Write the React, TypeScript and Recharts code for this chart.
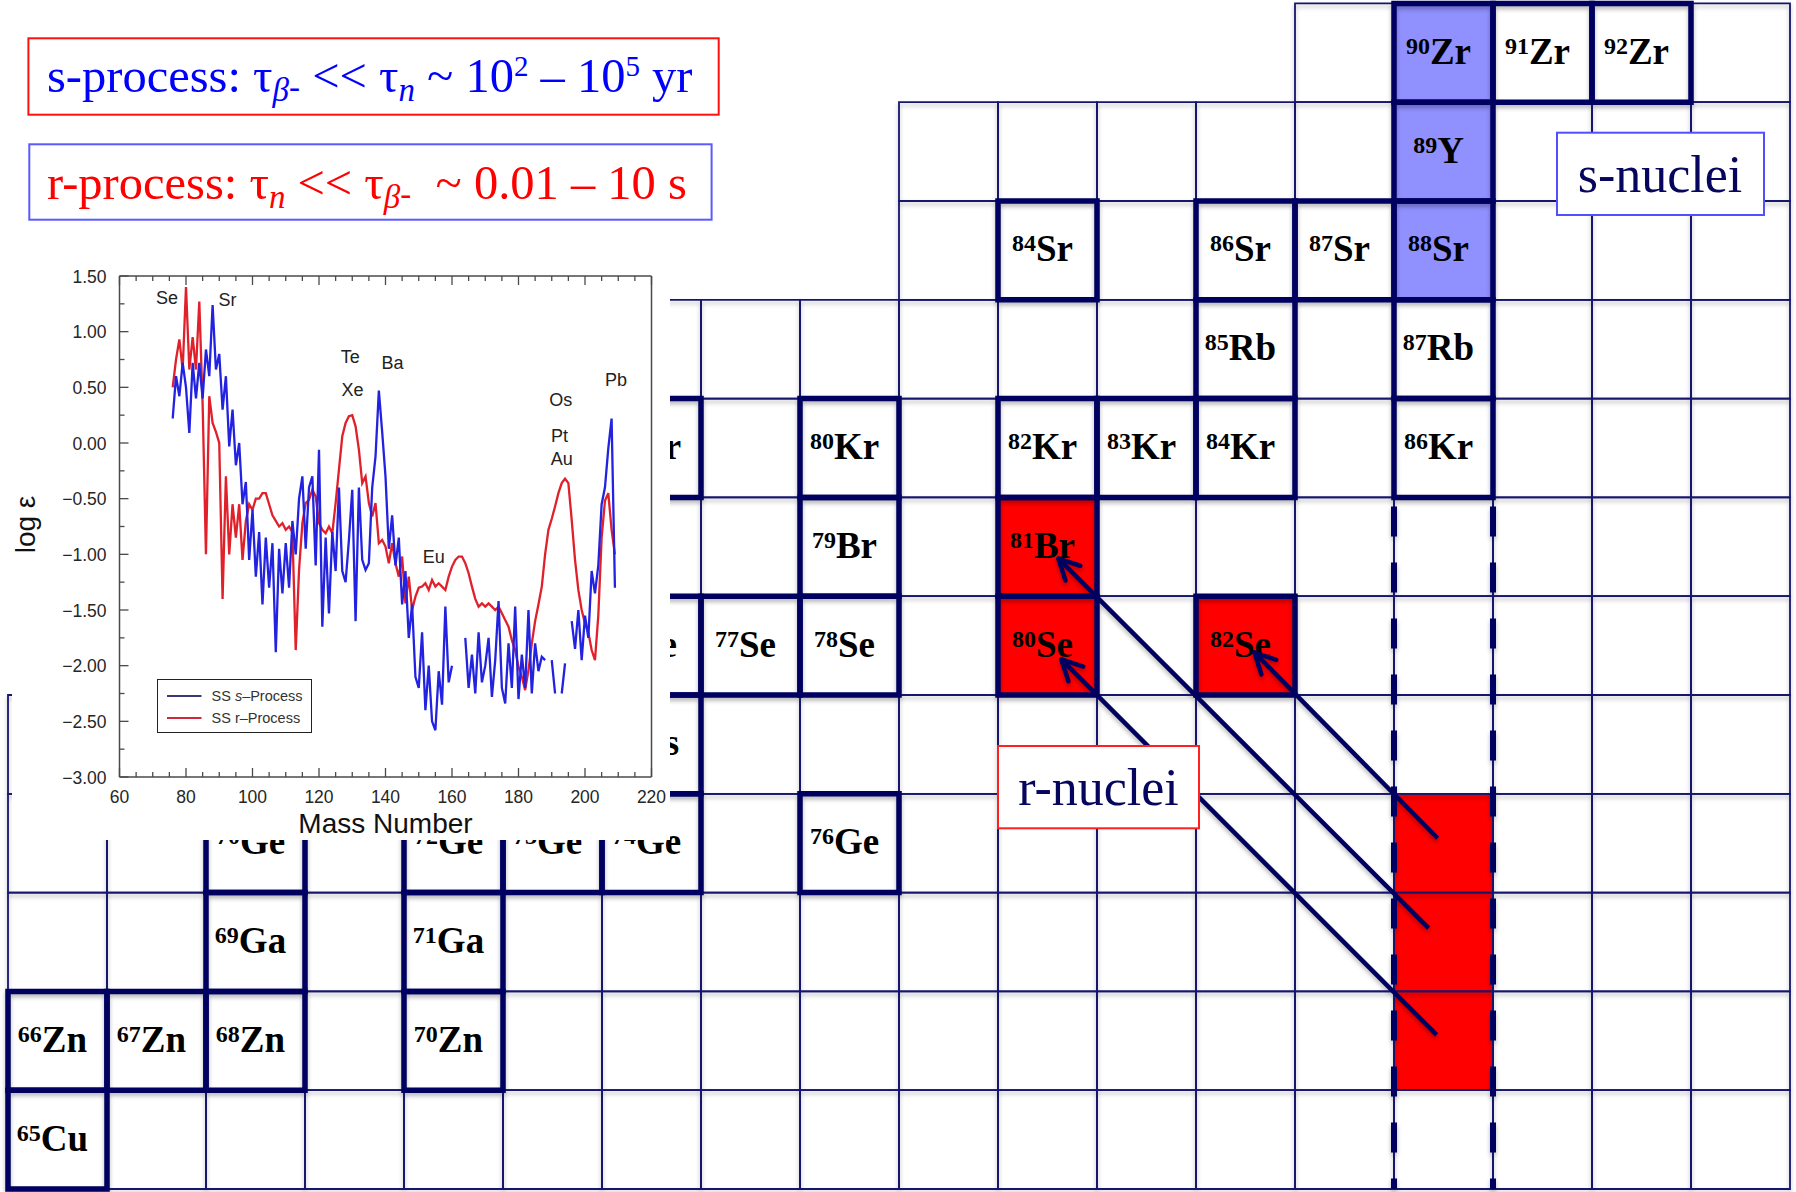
import React from 'react';
import {
  ScatterChart,
  ComposedChart,
  Scatter,
  Line,
  XAxis,
  YAxis,
  ReferenceArea,
  ReferenceLine,
  Legend,
} from 'recharts';

// ---------------------------------------------------------------------------
// Page
// ---------------------------------------------------------------------------
const PAGE_W = 1796;
const PAGE_H = 1192;

// ---------------------------------------------------------------------------
// Chart of nuclides (x = neutron number N, y = proton number Z)
// ---------------------------------------------------------------------------
const N_DOMAIN: [number, number] = [35.5, 53.5];
const Z_DOMAIN: [number, number] = [28.5, 40.5];
const GRID_MARGIN = { top: 3.4, right: 6, bottom: 3, left: 8 };

const elementSymbol: Record<number, string> = {
  29: 'Cu', 30: 'Zn', 31: 'Ga', 32: 'Ge', 33: 'As', 34: 'Se',
  35: 'Br', 36: 'Kr', 37: 'Rb', 38: 'Sr', 39: 'Y', 40: 'Zr',
};

// proton rows of the chart and the neutron range drawn in each row
const rowZ = [40, 39, 38, 37, 36, 35, 34, 33, 32, 31, 30, 29];
const rowFirstN = [49, 45, 45, 38, 38, 38, 38, 36, 36, 36, 36, 36];
const rowLastN = [53, 53, 53, 53, 53, 53, 53, 53, 53, 53, 53, 53];

// stable isotopes (Z, mass number A)
const stableIsotopes = [
  { z: 40, a: 90 }, { z: 40, a: 91 }, { z: 40, a: 92 },
  { z: 39, a: 89 },
  { z: 38, a: 84 }, { z: 38, a: 86 }, { z: 38, a: 87 }, { z: 38, a: 88 },
  { z: 37, a: 85 }, { z: 37, a: 87 },
  { z: 36, a: 78 }, { z: 36, a: 80 }, { z: 36, a: 82 }, { z: 36, a: 83 }, { z: 36, a: 84 }, { z: 36, a: 86 },
  { z: 35, a: 79 }, { z: 35, a: 81 },
  { z: 34, a: 74 }, { z: 34, a: 76 }, { z: 34, a: 77 }, { z: 34, a: 78 }, { z: 34, a: 80 }, { z: 34, a: 82 },
  { z: 33, a: 75 },
  { z: 32, a: 70 }, { z: 32, a: 72 }, { z: 32, a: 73 }, { z: 32, a: 74 }, { z: 32, a: 76 },
  { z: 31, a: 69 }, { z: 31, a: 71 },
  { z: 30, a: 66 }, { z: 30, a: 67 }, { z: 30, a: 68 }, { z: 30, a: 70 },
  { z: 29, a: 65 },
];

// s-process nuclei on the N = 50 closed shell
const sNuclei = [{ z: 40, a: 90 }, { z: 39, a: 89 }, { z: 38, a: 88 }];
// r-process nuclei fed by beta decay
const rNuclei = [{ z: 35, a: 81 }, { z: 34, a: 80 }, { z: 34, a: 82 }];
// r-process path on the N = 50 shell (neutron-rich progenitors)
const rPathCells = [{ z: 32, n: 50 }, { z: 31, n: 50 }, { z: 30, n: 50 }];

// closed neutron shell marked by the dashed column, starting below this Z
const MAGIC_N = 50;
const DASHED_FROM_Z = 35.5;

// beta-decay chains: start inside the r-path cell, arrow tip at the daughter
const decayArrows = [
  { from: { n: 49.94, z: 32.05 }, to: { n: 48.09, z: 33.93 } },
  { from: { n: 49.85, z: 31.14 }, to: { n: 46.11, z: 34.88 } },
  { from: { n: 49.93, z: 30.06 }, to: { n: 46.14, z: 33.86 } },
];

const GRID_COLOR = '#16166e';
const BORDER_COLOR = '#000060';
const S_FILL = '#9090ff';
const R_FILL = '#ff0000';

const PX_PER_N = (PAGE_W - GRID_MARGIN.left - GRID_MARGIN.right) / (N_DOMAIN[1] - N_DOMAIN[0]);
const PX_PER_Z = (PAGE_H - GRID_MARGIN.top - GRID_MARGIN.bottom) / (Z_DOMAIN[1] - Z_DOMAIN[0]);

const gridCells: { n: number; z: number }[] = [];
rowZ.forEach((z, i) => {
  for (let n = rowFirstN[i]; n <= rowLastN[i]; n += 1) gridCells.push({ n, z });
});

const stableCells = stableIsotopes.map((s) => ({ ...s, n: s.a - s.z }));
const filledCells = [
  ...sNuclei.map((s) => ({ n: s.a - s.z, z: s.z, fill: S_FILL })),
  ...rNuclei.map((s) => ({ n: s.a - s.z, z: s.z, fill: R_FILL })),
  ...rPathCells.map((s) => ({ n: s.n, z: s.z, fill: R_FILL })),
];

// open arrow head: two barbs of fixed pixel length, converted back to data units
function arrowBarbs(from: { n: number; z: number }, to: { n: number; z: number }) {
  const dx = (from.n - to.n) * PX_PER_N;
  const dy = -(from.z - to.z) * PX_PER_Z;
  const len = Math.hypot(dx, dy);
  const ux = dx / len;
  const uy = dy / len;
  const barbLen = 23;
  return [27, -27].map((deg) => {
    const r = (deg * Math.PI) / 180;
    const bx = (ux * Math.cos(r) - uy * Math.sin(r)) * barbLen;
    const by = (ux * Math.sin(r) + uy * Math.cos(r)) * barbLen;
    return { n: to.n + bx / PX_PER_N, z: to.z - by / PX_PER_Z };
  });
}

const NuclideLabel = (props: any) => {
  const { cx, cy, payload } = props;
  if (cx == null || cy == null) return <g />;
  return (
    <text
      x={cx - 5}
      y={cy + 11}
      textAnchor="middle"
      fontFamily="'Liberation Serif', 'Times New Roman', serif"
      fontWeight={700}
      fill="#000"
    >
      <tspan fontSize={24} dy={-10}>{payload.a}</tspan>
      <tspan fontSize={37} dy={10}>{elementSymbol[payload.z]}</tspan>
    </text>
  );
};

function NuclideFills() {
  return (
    <ScatterChart width={PAGE_W} height={PAGE_H} margin={GRID_MARGIN}>
      <XAxis type="number" dataKey="n" domain={N_DOMAIN} hide allowDataOverflow />
      <YAxis type="number" dataKey="z" domain={Z_DOMAIN} hide allowDataOverflow />
      {filledCells.map((c) => (
        <ReferenceArea
          key={`fill-${c.n}-${c.z}`}
          x1={c.n - 0.5}
          x2={c.n + 0.5}
          y1={c.z - 0.5}
          y2={c.z + 0.5}
          fill={c.fill}
          fillOpacity={1}
          stroke="none"
          ifOverflow="visible"
        />
      ))}
      <Scatter data={stableCells} shape={NuclideLabel} isAnimationActive={false} />
    </ScatterChart>
  );
}

function NuclideGrid() {
  return (
    <ScatterChart width={PAGE_W} height={PAGE_H} margin={GRID_MARGIN}>
      <XAxis type="number" dataKey="n" domain={N_DOMAIN} hide allowDataOverflow />
      <YAxis type="number" dataKey="z" domain={Z_DOMAIN} hide allowDataOverflow />
      {gridCells.map((c) => (
        <ReferenceArea
          key={`cell-${c.n}-${c.z}`}
          x1={c.n - 0.5}
          x2={c.n + 0.5}
          y1={c.z - 0.5}
          y2={c.z + 0.5}
          fill="none"
          stroke={GRID_COLOR}
          strokeWidth={1.8}
          ifOverflow="visible"
        />
      ))}
      {stableCells.map((c) => (
        <ReferenceArea
          key={`stable-${c.n}-${c.z}`}
          x1={c.n - 0.5}
          x2={c.n + 0.5}
          y1={c.z - 0.5}
          y2={c.z + 0.5}
          fill="none"
          stroke={BORDER_COLOR}
          strokeWidth={5.5}
          ifOverflow="visible"
        />
      ))}
      {[MAGIC_N - 0.5, MAGIC_N + 0.5].map((n) => (
        <ReferenceLine
          key={`shell-${n}`}
          segment={[{ x: n, y: DASHED_FROM_Z }, { x: n, y: Z_DOMAIN[0] }]}
          stroke={BORDER_COLOR}
          strokeWidth={6}
          strokeDasharray="30 26"
          strokeDashoffset={47}
          ifOverflow="visible"
        />
      ))}
      {decayArrows.map((d, i) => (
        <ReferenceLine
          key={`arrow-${i}`}
          segment={[{ x: d.from.n, y: d.from.z }, { x: d.to.n, y: d.to.z }]}
          stroke={BORDER_COLOR}
          strokeWidth={4.5}
          ifOverflow="visible"
        />
      ))}
      {decayArrows.flatMap((d, i) =>
        arrowBarbs(d.from, d.to).map((b, j) => (
          <ReferenceLine
            key={`barb-${i}-${j}`}
            segment={[{ x: d.to.n, y: d.to.z }, { x: b.n, y: b.z }]}
            stroke={BORDER_COLOR}
            strokeWidth={4.5}
            strokeLinecap="round"
            ifOverflow="visible"
          />
        )),
      )}
      <Scatter data={stableCells} shape={() => <g />} isAnimationActive={false} />
    </ScatterChart>
  );
}

// ---------------------------------------------------------------------------
// Solar-system s- and r-process abundances, log eps vs. mass number
// ---------------------------------------------------------------------------
const massNumbers: number[] = Array.from({ length: 134 }, (_, i) => 76 + i);

const sProcessLogEps: (number | null)[] = [
  0.22, 0.60, 0.42, 0.72, 0.50, 0.09, 0.72, 0.40, 0.72, 0.40, // 76-85
  0.84, 0.60, 1.24, 0.66, 0.80, 0.30, 0.60, -0.03, 0.30, -0.20, // 86-95
  0.00, -0.55, -0.35, -1.05, -0.60, -1.20, -0.80, -1.45, -0.85, -1.30, // 96-105
  -0.90, -1.88, -0.95, -1.35, -0.90, -1.30, -0.70, -1.00, -0.50, -0.30, // 106-115
  -0.95, -0.40, -0.30, -1.10, -0.06, -1.65, -0.85, -1.53, -0.80, -1.15, // 116-125
  -0.40, -1.15, -1.25, -0.87, -0.42, -1.60, -0.40, -1.05, -1.14, -1.08, // 126-135
  -0.40, -0.12, 0.47, 0.10, -0.30, -0.95, -0.65, -1.10, -0.85, -1.45, // 136-145
  -1.15, -1.75, -1.45, -2.10, -2.20, -1.70, -2.40, -2.00, -2.50, -2.58, // 146-155
  -2.05, -2.35, -1.47, -2.15, -2.00, null, null, null, -1.75, -2.20, // 156-165
  -1.90, -2.25, -1.70, -2.15, -2.00, -1.75, -2.28, -1.95, -1.42, -2.20, // 166-175
  -2.34, -1.80, -2.20, -1.47, -2.30, -1.90, -2.20, -1.50, -2.25, -1.80, // 176-185
  -2.05, -1.92, -1.95, null, -1.95, -2.25, null, -2.25, -1.98, null, // 186-195
  -1.60, -1.85, -1.50, -1.95, -1.55, -1.75, -1.15, -1.35, -1.10, -0.55, // 196-205
  -0.40, -0.05, 0.22, -1.30, // 206-209
];

const rProcessLogEps: number[] = [
  0.50, 0.75, 0.93, 0.66, 1.40, 0.66, 0.95, 0.66, 1.27, 0.35, // 76-85
  -1.00, 0.42, 0.18, 0.10, 0.00, -1.40, -0.30, -1.00, -0.55, -0.85, // 86-95
  -0.55, -1.05, -0.70, -0.55, -0.60, -0.50, -0.50, -0.45, -0.45, -0.55, // 96-105
  -0.65, -0.70, -0.75, -0.72, -0.78, -0.75, -0.80, -1.86, -1.14, -0.72, // 106-115
  -0.54, -0.51, -0.42, -0.48, -0.72, -0.78, -0.81, -0.75, -0.81, -0.54, // 116-125
  -0.24, 0.06, 0.18, 0.24, 0.25, 0.15, -0.06, -0.36, -0.30, -0.54, // 126-135
  -0.66, -0.54, -0.90, -0.87, -0.93, -1.08, -0.90, -1.08, -1.20, -1.02, // 136-145
  -1.44, -1.20, -1.50, -1.38, -1.30, -1.29, -1.26, -1.32, -1.23, -1.29, // 146-155
  -1.26, -1.29, -1.32, -1.20, -1.11, -1.05, -1.02, -1.02, -1.08, -1.17, // 156-165
  -1.29, -1.40, -1.47, -1.44, -1.47, -1.44, -1.47, -1.50, -1.47, -1.53, // 166-175
  -1.59, -1.65, -1.77, -1.86, -2.01, -2.10, -2.22, -2.04, -1.80, -1.60, // 176-185
  -1.45, -1.29, -1.00, -0.78, -0.68, -0.57, -0.45, -0.36, -0.32, -0.36, // 186-195
  -0.69, -1.05, -1.32, -1.50, -1.62, -1.70, -1.86, -1.95, -1.55, -0.85, // 196-205
  -0.52, -0.45, -0.78, -1.00, // 206-209
];

const massTicks = [
  60, 65, 70, 75, 80, 85, 90, 95, 100, 105, 110, 115, 120, 125, 130, 135, 140,
  145, 150, 155, 160, 165, 170, 175, 180, 185, 190, 195, 200, 205, 210, 215, 220,
];
const logTicks = [
  -3, -2.75, -2.5, -2.25, -2, -1.75, -1.5, -1.25, -1, -0.75, -0.5, -0.25,
  0, 0.25, 0.5, 0.75, 1, 1.25, 1.5,
];

// element names placed over the abundance peaks
const peakLabels = [
  { a: 74.3, v: 1.31, text: 'Se' },
  { a: 92.5, v: 1.29, text: 'Sr' },
  { a: 129.4, v: 0.78, text: 'Te' },
  { a: 130.1, v: 0.48, text: 'Xe' },
  { a: 142.1, v: 0.72, text: 'Ba' },
  { a: 154.5, v: -1.02, text: 'Eu' },
  { a: 192.7, v: 0.39, text: 'Os' },
  { a: 192.3, v: 0.07, text: 'Pt' },
  { a: 193.0, v: -0.14, text: 'Au' },
  { a: 209.3, v: 0.57, text: 'Pb' },
];

// legend order and labels
const legendOrder = ['s', 'r'];

const abundanceRows = massNumbers.map((a, i) => ({
  a,
  s: sProcessLogEps[i],
  r: rProcessLogEps[i],
}));

const INSET_W = 658;
const INSET_H = 582;
const FRAME = '#4a4a4a';
const S_LINE = '#2222e0';
const R_LINE = '#e0202a';
const SANS = "'Liberation Sans', Arial, sans-serif";

const isMajorMass = (v: number) => v % 20 === 0;
const isMajorLog = (v: number) => Math.abs(v * 2 - Math.round(v * 2)) < 1e-6;
const fmtLog = (v: number) => (v < 0 ? '\u2212' : '') + Math.abs(v).toFixed(2);

const massTick = (side: 'bottom' | 'top') => (props: any) => {
  const { x, y, payload } = props;
  const major = isMajorMass(payload.value);
  const len = major ? 9 : 5;
  const dir = side === 'bottom' ? -1 : 1;
  return (
    <g>
      <line x1={x} x2={x} y1={y} y2={y + dir * len} stroke={FRAME} strokeWidth={1.3} />
      {side === 'bottom' && major && (
        <text x={x} y={y + 26} textAnchor="middle" fontFamily={SANS} fontSize={17.5} fill="#262626">
          {payload.value}
        </text>
      )}
    </g>
  );
};

const logTick = (side: 'left' | 'right') => (props: any) => {
  const { x, y, payload } = props;
  const major = isMajorLog(payload.value);
  const len = major ? 9 : 5;
  const dir = side === 'left' ? 1 : -1;
  return (
    <g>
      <line x1={x} x2={x + dir * len} y1={y} y2={y} stroke={FRAME} strokeWidth={1.3} />
      {side === 'left' && major && (
        <text x={x - 13} y={y + 6.5} textAnchor="end" fontFamily={SANS} fontSize={17.5} fill="#262626">
          {fmtLog(payload.value)}
        </text>
      )}
    </g>
  );
};

const PeakLabel = (props: any) => {
  const { cx, cy, payload } = props;
  if (cx == null || cy == null) return <g />;
  return (
    <text x={cx} y={cy + 6.5} textAnchor="middle" fontFamily={SANS} fontSize={18} fill="#222">
      {payload.text}
    </text>
  );
};

const massAxisTitle = (props: any) => {
  const vb = props.viewBox ?? { x: 107.5, y: 519, width: 532, height: 63 };
  return (
    <text
      x={vb.x + vb.width / 2}
      y={vb.y + vb.height - 7}
      textAnchor="middle"
      fontFamily={SANS}
      fontSize={28}
      fill="#111"
    >
      Mass Number
    </text>
  );
};

const logAxisTitle = (props: any) => {
  const vb = props.viewBox ?? { x: 7.5, y: 18, width: 100, height: 501 };
  const x = vb.x + 15;
  const y = vb.y + vb.height / 2 - 2;
  return (
    <text
      x={x}
      y={y}
      textAnchor="middle"
      transform={`rotate(-90, ${x}, ${y})`}
      fontFamily={SANS}
      fontSize={28}
      fill="#111"
    >
      log ε
    </text>
  );
};

const legendSwatch: Record<string, string> = { s: '#3a3a7a', r: '#d02a3a' };

const renderLegend = (props: any) => {
  const items = (props.payload || [])
    .filter((p: any) => legendOrder.includes(String(p.dataKey)))
    .sort(
      (p: any, q: any) =>
        legendOrder.indexOf(String(p.dataKey)) - legendOrder.indexOf(String(q.dataKey)),
    );
  return (
    <div
      style={{
        width: 154.5,
        height: 54.4,
        boxSizing: 'border-box',
        border: '1.5px solid #222',
        background: '#fff',
        position: 'relative',
      }}
    >
      <svg width={152} height={52} style={{ position: 'absolute', left: 0, top: 0 }}>
        {items.map((p: any, i: number) => {
          const y = 16 + 21.9 * i;
          const key = String(p.dataKey);
          return (
            <g key={key}>
              <line x1={9} x2={43.5} y1={y} y2={y} stroke={legendSwatch[key]} strokeWidth={2} />
              <text x={53.5} y={y + 5} fontFamily={SANS} fontSize={14.5} fill="#333">
                <tspan>SS </tspan>
                <tspan fontStyle={key === 's' ? 'italic' : 'normal'}>{key}</tspan>
                <tspan>–Process</tspan>
              </text>
            </g>
          );
        })}
      </svg>
    </div>
  );
};

function AbundanceInset() {
  return (
    <ComposedChart
      width={INSET_W}
      height={INSET_H}
      data={abundanceRows}
      margin={{ top: 8, right: 8.5, bottom: 0, left: 7.5 }}
    >
      <XAxis
        xAxisId="mass"
        dataKey="a"
        type="number"
        domain={[60, 220]}
        ticks={massTicks}
        interval={0}
        tickSize={0}
        tickMargin={0}
        tickLine={false}
        tick={massTick('bottom')}
        axisLine={{ stroke: FRAME, strokeWidth: 1.5 }}
        height={63}
        label={massAxisTitle}
      />
      <XAxis
        xAxisId="massTop"
        orientation="top"
        dataKey="a"
        type="number"
        domain={[60, 220]}
        ticks={massTicks}
        interval={0}
        tickSize={0}
        tickMargin={0}
        tickLine={false}
        tick={massTick('top')}
        axisLine={{ stroke: FRAME, strokeWidth: 1.5 }}
        height={10}
      />
      <YAxis
        yAxisId="log"
        type="number"
        domain={[-3, 1.5]}
        ticks={logTicks}
        interval={0}
        tickSize={0}
        tickMargin={0}
        tickLine={false}
        tick={logTick('left')}
        axisLine={{ stroke: FRAME, strokeWidth: 1.5 }}
        width={100}
        label={logAxisTitle}
      />
      <YAxis
        yAxisId="logRight"
        orientation="right"
        type="number"
        domain={[-3, 1.5]}
        ticks={logTicks}
        interval={0}
        tickSize={0}
        tickMargin={0}
        tickLine={false}
        tick={logTick('right')}
        axisLine={{ stroke: FRAME, strokeWidth: 1.5 }}
        width={10}
      />
      <Line
        xAxisId="mass"
        yAxisId="log"
        type="linear"
        dataKey="r"
        name="SS r–Process"
        stroke={R_LINE}
        strokeWidth={2.3}
        dot={false}
        activeDot={false}
        isAnimationActive={false}
      />
      <Line
        xAxisId="mass"
        yAxisId="log"
        type="linear"
        dataKey="s"
        name="SS s–Process"
        stroke={S_LINE}
        strokeWidth={2.3}
        dot={false}
        activeDot={false}
        isAnimationActive={false}
      />
      <Scatter
        xAxisId="mass"
        yAxisId="log"
        data={peakLabels}
        dataKey="v"
        shape={PeakLabel}
        legendType="none"
        isAnimationActive={false}
      />
      <Legend
        layout="vertical"
        align="center"
        verticalAlign="middle"
        content={renderLegend}
        wrapperStyle={{ left: 145, top: 420.6, width: 154.5, height: 54.4, margin: 0, padding: 0 }}
      />
    </ComposedChart>
  );
}

// ---------------------------------------------------------------------------
// Text boxes drawn over the chart
// ---------------------------------------------------------------------------
const SERIF = "'Liberation Serif', 'Times New Roman', serif";

function Annotations() {
  return (
    <svg
      width={PAGE_W}
      height={PAGE_H}
      style={{ position: 'absolute', left: 0, top: 0, pointerEvents: 'none' }}
    >
      <rect x={28.4} y={38.3} width={690.3} height={76.4} fill="#fff" stroke="#ff1010" strokeWidth={2} />
      <text x={47} y={91.7} fontFamily={SERIF} fontSize={48.5} fill="#0000ff" style={{ whiteSpace: 'pre' }}>
        <tspan>s-process: τ</tspan>
        <tspan fontSize={33} fontStyle="italic" dy={9}>β</tspan>
        <tspan fontSize={33} dy={-3}>-</tspan>
        <tspan dy={-6}>{' << τ'}</tspan>
        <tspan fontSize={33} fontStyle="italic" dy={9}>n</tspan>
        <tspan dy={-9}>{' ~ 10'}</tspan>
        <tspan fontSize={29} dy={-16}>2</tspan>
        <tspan dy={16}>{' – 10'}</tspan>
        <tspan fontSize={29} dy={-16}>5</tspan>
        <tspan dy={16}>{' yr'}</tspan>
      </text>

      <rect x={29.3} y={144.3} width={682.3} height={75.4} fill="#fff" stroke="#5a5aff" strokeWidth={2} />
      <text x={47} y={199} fontFamily={SERIF} fontSize={48.5} fill="#ff0000" style={{ whiteSpace: 'pre' }}>
        <tspan>r-process: τ</tspan>
        <tspan fontSize={33} fontStyle="italic" dy={9}>n</tspan>
        <tspan dy={-9}>{' << τ'}</tspan>
        <tspan fontSize={33} fontStyle="italic" dy={9}>β</tspan>
        <tspan fontSize={33} dy={-3}>-</tspan>
        <tspan dy={-6}>{'  ~ 0.01 – 10 s'}</tspan>
      </text>

      <rect x={1557} y={132.7} width={207} height={82.3} fill="#fff" stroke="#5050ff" strokeWidth={2} />
      <text x={1660} y={191.7} textAnchor="middle" fontFamily={SERIF} fontSize={52} fill="#06065e">
        s-nuclei
      </text>

      <rect x={998} y={746} width={201} height={82.3} fill="#fff" stroke="#ff2020" strokeWidth={2} />
      <text x={1098.5} y={805} textAnchor="middle" fontFamily={SERIF} fontSize={52} fill="#06065e">
        r-nuclei
      </text>
    </svg>
  );
}

export default function App() {
  return (
    <div
      style={{
        position: 'absolute',
        left: 0,
        top: 0,
        width: PAGE_W,
        height: PAGE_H,
        background: '#fff',
        overflow: 'hidden',
      }}
    >
      <div style={{ position: 'absolute', left: 0, top: 0 }}>
        <NuclideFills />
      </div>
      <div
        style={{
          position: 'absolute',
          left: 0,
          top: 0,
          filter: 'drop-shadow(0px 3px 2px rgba(0,0,0,0.28))',
        }}
      >
        <NuclideGrid />
      </div>
      <div
        style={{
          position: 'absolute',
          left: 12,
          top: 258,
          width: INSET_W,
          height: INSET_H,
          background: '#fff',
        }}
      >
        <AbundanceInset />
      </div>
      <Annotations />
    </div>
  );
}
